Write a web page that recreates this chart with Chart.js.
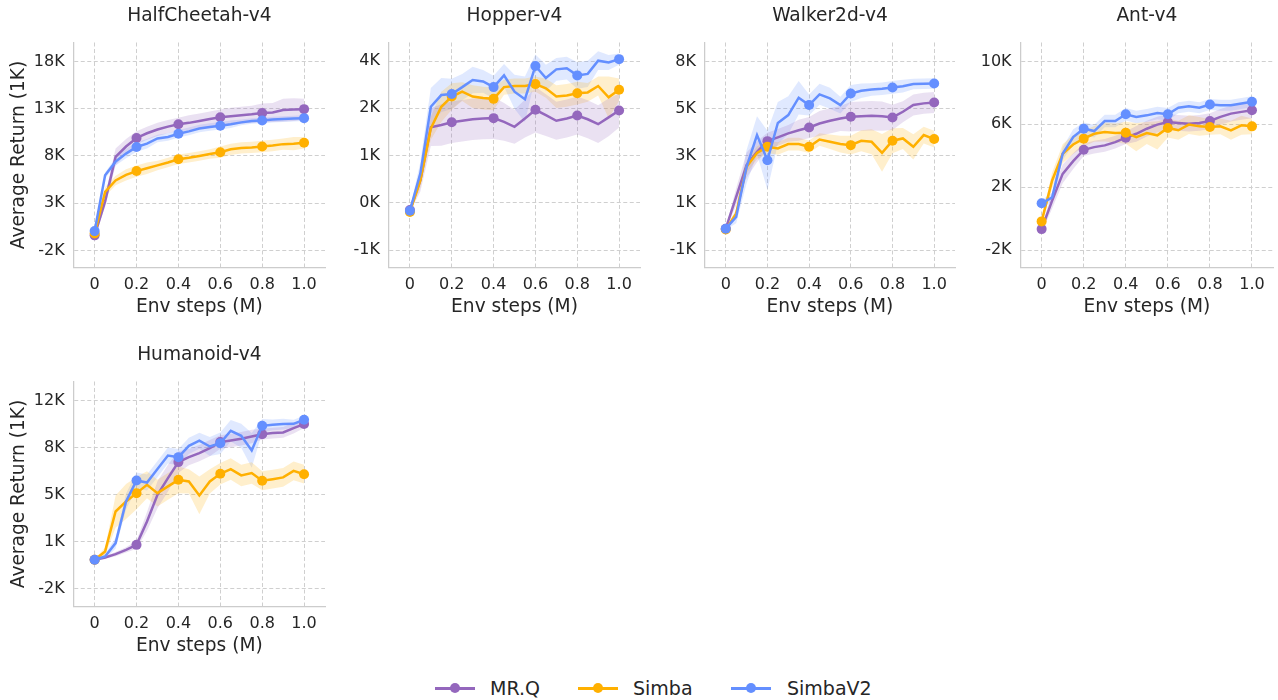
<!DOCTYPE html>
<html><head><meta charset="utf-8">
<script src="https://cdn.jsdelivr.net/npm/chart.js@4/dist/chart.umd.min.js"></script>
<style>
body{margin:0;background:#fff;width:1278px;height:700px;position:relative;overflow:hidden;font-family:'DejaVu Sans',sans-serif;}
canvas{position:absolute;}
.item{position:absolute;top:676px;height:24px;font-size:19px;color:#262626;line-height:24px;white-space:nowrap}
.sw{position:absolute;height:3px}
.dot{position:absolute;width:10px;height:10px;border-radius:50%}
</style></head>
<body>
<script>
// ---------- data ----------
const steps = [0,0.05,0.1,0.15,0.2,0.25,0.3,0.35,0.4,0.45,0.5,0.55,0.6,0.65,0.7,0.75,0.8,0.85,0.9,0.95,1.0];
const xTicks = [0,0.2,0.4,0.6,0.8,1.0];
const xTickLabels = ['0','0.2','0.4','0.6','0.8','1.0'];
const seriesNames = ['MR.Q','Simba','SimbaV2'];
const seriesColors = ['#9467bd','#ffb000','#648fff'];
const envNames = ['HalfCheetah-v4','Hopper-v4','Walker2d-v4','Ant-v4','Humanoid-v4'];

// HalfCheetah-v4 (K)
const hcTicks = [-2,3,8,13,18];
const hcTickLabels = ['-2K','3K','8K','13K','18K'];
const hcMRQ = [-0.4,3.2,7.9,9.0,9.9,10.4,10.8,11.1,11.35,11.5,11.7,11.9,12.1,12.2,12.3,12.4,12.55,12.6,12.85,12.9,12.95];
const hcSimba = [-0.2,4.2,5.4,6.0,6.4,6.7,7.0,7.3,7.65,7.8,8.0,8.2,8.4,8.7,8.85,8.9,9.0,9.1,9.25,9.3,9.4];
const hcSimbaV2 = [0.05,5.95,7.4,8.25,8.95,9.3,9.85,10.0,10.35,10.6,10.9,11.07,11.2,11.35,11.55,11.7,11.75,11.85,11.9,11.95,12.0];
const hcMRQSpread = [0.2,0.6,0.9,0.8,0.7,0.7,0.7,0.7,0.7,0.8,0.8,0.8,0.8,0.9,0.9,0.9,1.0,1.0,1.2,1.2,1.1];
const hcSimbaSpread = [0.2,0.5,0.5,0.6,0.6,0.6,0.5,0.5,0.5,0.5,0.5,0.5,0.6,0.6,0.6,0.6,0.6,0.6,0.6,0.7,0.6];
const hcSimbaV2Spread = [0.2,0.3,0.4,0.5,0.5,0.5,0.4,0.4,0.4,0.4,0.4,0.4,0.4,0.4,0.3,0.3,0.3,0.3,0.3,0.3,0.3];

// Hopper-v4 (K)
const hopTicks = [-1.25,0,1.25,2.5,3.75];
const hopTickLabels = ['-1K','0K','1K','2K','4K'];
const hopMRQ = [-0.19,0.6,2.0,2.06,2.13,2.17,2.21,2.23,2.24,2.14,2.01,2.23,2.46,2.32,2.17,2.23,2.31,2.21,2.08,2.26,2.44];
const hopSimba = [-0.24,0.6,1.97,2.54,2.81,2.94,2.81,2.77,2.75,3.06,3.09,3.09,3.14,3.03,2.81,2.84,2.9,2.92,3.09,2.79,2.99];
const hopSimbaV2 = [-0.21,0.78,2.54,2.85,2.88,3.06,3.25,3.21,3.06,3.37,2.94,2.74,3.62,3.3,3.53,3.56,3.37,3.41,3.76,3.71,3.8];
const hopMRQSpread = [0.05,0.3,0.5,0.55,0.55,0.55,0.55,0.55,0.55,0.5,0.45,0.5,0.6,0.55,0.5,0.5,0.5,0.5,0.5,0.5,0.45];
const hopSimbaSpread = [0.05,0.2,0.3,0.4,0.35,0.25,0.3,0.3,0.3,0.2,0.2,0.2,0.2,0.25,0.3,0.3,0.3,0.25,0.25,0.55,0.3];
const hopSimbaV2Spread = [0.05,0.3,0.5,0.45,0.4,0.35,0.35,0.3,0.3,0.3,0.45,0.6,0.3,0.35,0.3,0.3,0.35,0.35,0.25,0.2,0.15];

// Walker2d-v4 (K)
const walkTicks = [-1,1.25,3.5,5.75,8];
const walkTickLabels = ['-1K','1K','3K','5K','8K'];
const walkMRQ = [0.03,1.55,3.06,3.69,4.2,4.38,4.57,4.72,4.85,5.04,5.17,5.28,5.36,5.39,5.41,5.39,5.33,5.6,5.92,6.0,6.04];
const walkSimba = [-0.01,0.75,2.98,3.64,3.93,3.85,4.06,4.06,3.93,4.28,4.17,4.06,4.01,4.22,4.17,3.64,4.22,4.33,3.93,4.49,4.3];
const walkSimbaV2 = [0.03,0.59,2.98,4.49,3.29,5.07,5.44,6.27,5.92,6.43,6.24,5.92,6.47,6.6,6.66,6.7,6.76,6.82,6.92,6.93,6.95];
const walkMRQSpread = [0.05,0.4,0.6,0.5,0.4,0.4,0.4,0.5,0.5,0.6,0.6,0.6,0.7,0.7,0.7,0.7,0.6,0.5,0.5,0.5,0.5];
const walkSimbaSpread = [0.05,0.2,0.3,0.3,0.3,0.3,0.3,0.3,0.3,0.3,0.35,0.4,0.45,0.5,0.6,0.9,0.6,0.5,0.6,0.4,0.4];
const walkSimbaV2Spread = [0.05,0.3,0.8,0.9,1.4,1.0,0.9,0.8,0.5,0.5,0.5,0.4,0.4,0.35,0.3,0.3,0.3,0.3,0.25,0.25,0.25];

// Ant-v4 (K)
const antTicks = [-2,2,6,10];
const antTickLabels = ['-2K','2K','6K','10K'];
const antMRQ = [-0.66,1.15,2.85,3.66,4.38,4.55,4.66,4.87,5.15,5.4,5.72,5.98,6.15,6.09,6.04,6.09,6.21,6.47,6.68,6.79,6.89];
const antSimba = [-0.17,2.43,4.13,4.72,5.09,5.4,5.51,5.45,5.47,5.19,5.45,5.3,5.77,5.62,5.98,5.87,5.83,5.87,5.62,5.94,5.87];
const antSimbaV2 = [0.98,1.36,4.13,5.19,5.72,5.57,6.21,6.21,6.64,6.47,6.57,6.72,6.64,7.06,7.15,7.06,7.26,7.21,7.21,7.32,7.43];
const antMRQSpread = [0.2,0.5,0.6,0.5,0.4,0.4,0.4,0.4,0.4,0.5,0.5,0.5,0.5,0.5,0.5,0.5,0.5,0.5,0.5,0.5,0.5];
const antSimbaSpread = [0.2,0.5,0.6,0.6,0.5,0.5,0.6,0.6,0.7,0.9,0.7,0.9,0.6,0.6,0.6,0.6,0.5,0.5,0.6,0.6,0.5];
const antSimbaV2Spread = [0.2,0.3,0.4,0.5,0.4,0.4,0.4,0.4,0.4,0.4,0.4,0.4,0.4,0.35,0.35,0.35,0.35,0.35,0.35,0.35,0.35];

// Humanoid-v4 (K)
const humTicks = [-2,1.5,5,8.5,12];
const humTickLabels = ['-2K','1K','5K','8K','12K'];
const humMRQ = [0.14,0.31,0.56,0.88,1.25,2.99,4.98,6.22,7.41,7.78,8.08,8.45,8.9,9.02,9.15,9.32,9.49,9.57,9.62,9.94,10.24];
const humSimba = [0.14,0.76,3.73,4.48,5.1,5.72,5.1,5.6,6.09,5.97,4.93,5.97,6.54,6.89,6.42,6.59,6.02,6.14,6.27,6.76,6.51];
const humSimbaV2 = [0.14,0.38,1.38,4.48,6.04,5.89,6.89,7.9,7.78,8.62,9.0,8.57,8.82,9.74,9.37,8.28,10.11,10.19,10.24,10.26,10.56];
const humMRQSpread = [0.05,0.1,0.15,0.2,0.3,0.7,1.0,1.0,0.8,0.6,0.6,0.6,0.5,0.5,0.5,0.5,0.4,0.4,0.4,0.4,0.3];
const humSimbaSpread = [0.05,0.3,1.2,1.3,1.2,1.0,1.0,1.0,1.0,0.9,1.4,0.9,0.8,0.8,0.8,0.8,0.7,0.7,0.7,0.7,0.7];
const humSimbaV2Spread = [0.05,0.2,0.4,0.6,0.6,0.6,0.6,0.6,0.6,0.6,0.6,0.7,0.8,0.8,0.9,1.3,0.5,0.4,0.4,0.3,0.3];

// ---------- layout ----------
const envs = [
  {name:envNames[0], ticks:hcTicks, labels:hcTickLabels, yMin:-3.8, yMax:20.0, means:[hcMRQ,hcSimba,hcSimbaV2], spreads:[hcMRQSpread,hcSimbaSpread,hcSimbaV2Spread],
   left:0, top:0, w:330, h:330, yW:73.7, padR:4, yTitle:true},
  {name:envNames[1], ticks:hopTicks, labels:hopTickLabels, yMin:-1.71, yMax:4.24, means:[hopMRQ,hopSimba,hopSimbaV2], spreads:[hopMRQSpread,hopSimbaSpread,hopSimbaV2Spread],
   left:330, top:0, w:315, h:330, yW:59.0, padR:2.9, yTitle:false},
  {name:envNames[2], ticks:walkTicks, labels:walkTickLabels, yMin:-1.82, yMax:8.9, means:[walkMRQ,walkSimba,walkSimbaV2], spreads:[walkMRQSpread,walkSimbaSpread,walkSimbaV2Spread],
   left:645, top:0, w:315, h:330, yW:59.9, padR:2.2, yTitle:false},
  {name:envNames[3], ticks:antTicks, labels:antTickLabels, yMin:-3.1, yMax:11.2, means:[antMRQ,antSimba,antSimbaV2], spreads:[antMRQSpread,antSimbaSpread,antSimbaV2Spread],
   left:960, top:0, w:318, h:330, yW:60.6, padR:4.6, yTitle:false},
  {name:envNames[4], ticks:humTicks, labels:humTickLabels, yMin:-3.34, yMax:13.41, means:[humMRQ,humSimba,humSimbaV2], spreads:[humMRQSpread,humSimbaSpread,humSimbaV2Spread],
   left:0, top:339, w:330, h:330, yW:73.7, padR:4, yTitle:true}
];

const TEXT = '#262626';
const GRID = '#cfcfcf';
Chart.defaults.font.family = "'DejaVu Sans'";
Chart.defaults.color = TEXT;

function rgba(hex, a){
  const n = parseInt(hex.slice(1),16);
  return `rgba(${(n>>16)&255},${(n>>8)&255},${n&255},${a})`;
}

const titlePlugin = {
  id: 'panelTitle',
  afterDraw(chart, args, opts){
    const a = chart.chartArea, ctx = chart.ctx;
    ctx.save();
    ctx.font = "18.6px 'DejaVu Sans'";
    ctx.fillStyle = TEXT;
    ctx.textAlign = 'center';
    ctx.textBaseline = 'alphabetic';
    ctx.fillText(opts.text, (a.left + a.right)/2, a.top - 21.5);
    ctx.restore();
  }
};

envs.forEach(env => {
  const c = document.createElement('canvas');
  c.width = env.w; c.height = env.h;
  c.style.left = env.left + 'px'; c.style.top = env.top + 'px';
  c.style.width = env.w + 'px'; c.style.height = env.h + 'px';
  document.body.appendChild(c);

  const lineSets = [];
  const bandSets = [];
  [2,1,0].forEach(si => {
    const col = seriesColors[si];
    const m = env.means[si];
    lineSets.push({
      label: seriesNames[si],
      data: steps.map((x,i)=>({x, y:m[i]})),
      borderColor: col, backgroundColor: col,
      borderWidth: 2.5, tension: 0, fill: false,
      pointRadius: ctx => (ctx.dataIndex % 4 === 0 ? 5 : 0),
      pointBackgroundColor: col, pointBorderWidth: 0, pointHoverRadius: 0
    });
  });
  [0,1,2].forEach(si => {
    const col = seriesColors[si];
    const m = env.means[si], s = env.spreads[si];
    bandSets.push({
      label: seriesNames[si]+' lo',
      data: steps.map((x,i)=>({x, y:m[i]-s[i]})),
      borderWidth: 0, pointRadius: 0, fill: false, borderColor: 'rgba(0,0,0,0)', tension: 0
    });
    bandSets.push({
      label: seriesNames[si]+' hi',
      data: steps.map((x,i)=>({x, y:m[i]+s[i]})),
      borderWidth: 0, pointRadius: 0, fill: '-1', borderColor: 'rgba(0,0,0,0)',
      backgroundColor: rgba(col, 0.2), tension: 0
    });
  });

  new Chart(c, {
    type: 'line',
    data: { datasets: lineSets.concat(bandSets) },
    plugins: [titlePlugin],
    options: {
      responsive: false, animation: false, devicePixelRatio: 1,
      events: [],
      layout: { padding: { top: 42.5, right: env.padR, left: 0, bottom: 0 } },
      plugins: { legend: {display:false}, tooltip: {enabled:false}, panelTitle: {text: env.name} },
      scales: {
        x: {
          type: 'linear', min: -0.1, max: 1.1,
          afterBuildTicks: s => { s.ticks = xTicks.map(v => ({value:v})); },
          afterFit: s => { s.height = 62.5; },
          ticks: { font:{size:16}, color: TEXT, padding: 8, maxRotation:0, autoSkip:false,
                   callback: (v, i) => xTickLabels[i] },
          grid: { color: GRID, lineWidth: 1, drawTicks: false },
          border: { display: true, color: '#cccccc', width: 1.25, dash: [4, 2.5] },
          title: { display: true, text: 'Env steps (M)', font:{size:18.6}, color: TEXT, padding:{top:0, bottom:11.5} }
        },
        y: {
          type: 'linear', min: env.yMin, max: env.yMax,
          afterBuildTicks: s => { s.ticks = env.ticks.map(v => ({value:v})); },
          afterFit: s => { s.width = env.yW; },
          ticks: { font:{size:16}, color: TEXT, padding: 9, autoSkip:false,
                   callback: (v, i) => env.labels[i] },
          grid: { color: GRID, lineWidth: 1, drawTicks: false },
          border: { display: true, color: '#cccccc', width: 1.25, dash: [4, 2.5] },
          title: { display: env.yTitle, text: 'Average Return (1K)', font:{size:18.6}, color: TEXT, padding:{top:8.5, bottom:0} }
        }
      }
    }
  });
});

// ---------- legend ----------
const legendPos = [{sw:435, tx:490},{sw:578, tx:633},{sw:731, tx:787}];
seriesNames.forEach((n, i) => {
  const sw = document.createElement('div');
  sw.className = 'sw';
  sw.style.left = legendPos[i].sw + 'px'; sw.style.top = '686.5px'; sw.style.width = '40px';
  sw.style.background = seriesColors[i];
  const dot = document.createElement('div');
  dot.className = 'dot';
  dot.style.left = '15px'; dot.style.top = '-3.5px'; dot.style.background = seriesColors[i];
  sw.appendChild(dot);
  document.body.appendChild(sw);
  const t = document.createElement('div');
  t.className = 'item'; t.textContent = n; t.style.left = legendPos[i].tx + 'px';
  document.body.appendChild(t);
});
</script>
</body></html>
